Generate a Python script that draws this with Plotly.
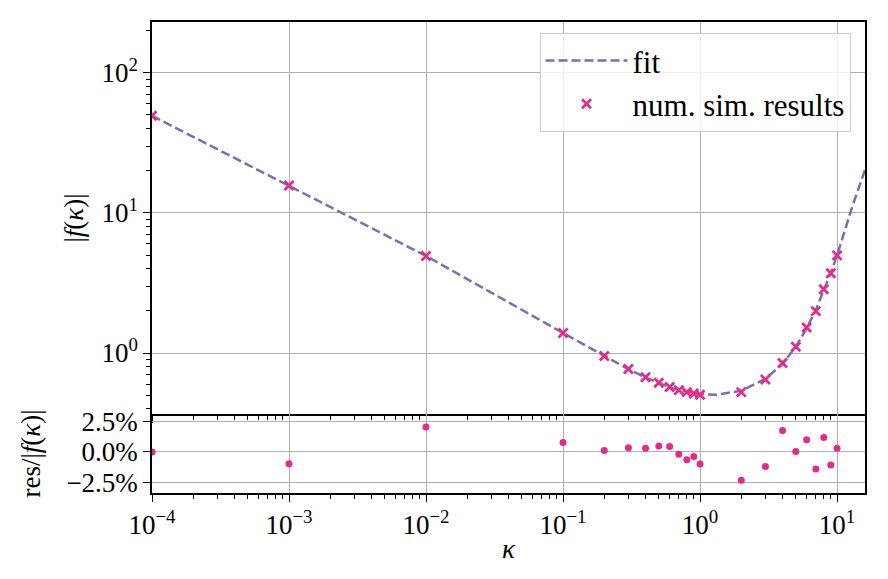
import plotly.graph_objects as go
from plotly.subplots import make_subplots

# ---------------- data ----------------
kappa_sim = [1e-4, 1e-3, 1e-2, 0.1, 0.2, 0.3, 0.4, 0.5, 0.6, 0.7, 0.8, 0.9, 1.0,
             2, 3, 4, 5, 6, 7, 8, 9, 10]
f_sim = [49.3, 15.7, 4.92, 1.39, 0.952, 0.769, 0.672, 0.614, 0.572, 0.544, 0.526,
         0.515, 0.504, 0.526, 0.648, 0.850, 1.11, 1.52, 1.99, 2.85, 3.71, 4.98]
res_pct = [0.0, -0.97, 2.02, 0.77, 0.12, 0.34, 0.29, 0.48, 0.45, -0.20, -0.64,
           -0.37, -0.99, -2.32, -1.18, 1.75, 0.04, 0.99, -1.40, 1.18, -1.07, 0.29]

kappa_fit = [1e-4, 1e-3, 1e-2, 0.1, 0.2, 0.3, 0.4, 0.5, 0.6, 0.7, 0.8, 0.9, 1.0,
             1.3, 2, 3, 4, 5, 6, 7, 8, 9, 10, 13, 16]
f_fit = [49.3, 15.6, 4.93, 1.39, 0.950, 0.767, 0.670, 0.611, 0.569, 0.545, 0.529,
         0.517, 0.509, 0.503, 0.538, 0.656, 0.835, 1.11, 1.50, 2.03, 2.80, 3.75,
         4.97, 11.3, 20.3]

x_tick_vals = [1e-4, 1e-3, 1e-2, 1e-1, 1, 10]
x_tick_text = ["10<sup>−4</sup>", "10<sup>−3</sup>", "10<sup>−2</sup>",
               "10<sup>−1</sup>", "10<sup>0</sup>", "10<sup>1</sup>"]
y_tick_vals = [1, 10, 100]
y_tick_text = ["10<sup>0</sup>", "10<sup>1</sup>", "10<sup>2</sup>"]
res_tick_vals = [2.5, 0.0, -2.5]
res_tick_text = ["2.5%", "0.0%", "−2.5%"]

# ---------------- style ----------------
PINK = "#e7298a"
PURPLE = "#7570b3"
FONT = "Liberation Serif, Times New Roman, serif"
GRID = "#b0b0b0"
FS = 27

minor_x = [m * 10.0 ** e for e in range(-4, 2) for m in range(2, 10)]
minor_y = [m * 10.0 ** e for e in range(-1, 3) for m in range(2, 10)]

fig = make_subplots(rows=2, cols=1, shared_xaxes=True, vertical_spacing=0,
                    row_heights=[0.832, 0.168])

fig.add_trace(go.Scatter(x=kappa_fit, y=f_fit, mode="lines", name="fit",
                         legendgroup="fit",
                         line=dict(color=PURPLE, width=2.5, dash="9px,4px")),
              row=1, col=1)
fig.add_trace(go.Scatter(x=kappa_sim, y=f_sim, mode="markers",
                         name="num. sim. results", legendgroup="sim",
                         marker=dict(symbol="x-thin", size=9, color=PINK,
                                     line=dict(color=PINK, width=2.7))),
              row=1, col=1)
fig.add_trace(go.Scatter(x=kappa_sim, y=res_pct, mode="markers", showlegend=False,
                         marker=dict(symbol="circle", size=7, color=PINK)),
              row=2, col=1)

tfont = dict(family=FONT, size=FS, color="black")
axis_common = dict(showline=True, linecolor="black", linewidth=1.5, mirror=True,
                   ticks="outside", tickcolor="black", tickwidth=1.2, ticklen=7,
                   gridcolor=GRID, gridwidth=0.8, zeroline=False, tickfont=tfont)

fig.update_xaxes(type="log", range=[-4, 1.204], tickmode="array",
                 tickvals=x_tick_vals, ticktext=x_tick_text,
                 minor=dict(tickmode="array", tickvals=minor_x, ticks="outside",
                            ticklen=4, tickcolor="black", tickwidth=1, showgrid=False),
                 **axis_common)
fig.update_xaxes(showticklabels=False, row=1, col=1)
fig.update_xaxes(mirror=False, title=dict(text="<i>κ</i>", font=tfont, standoff=0),
                 row=2, col=1)

fig.update_yaxes(type="log", range=[-0.434, 2.362], tickmode="array",
                 tickvals=y_tick_vals, ticktext=y_tick_text,
                 minor=dict(tickmode="array", tickvals=minor_y, ticks="outside",
                            ticklen=4, tickcolor="black", tickwidth=1, showgrid=False),
                 title=dict(text="|<i>f</i>(<i>κ</i>)|", font=tfont, standoff=10),
                 row=1, col=1, **axis_common)
fig.update_yaxes(range=[-3.35, 3.1], tickmode="array", tickvals=res_tick_vals,
                 ticktext=res_tick_text,
                 title=dict(text="res/|<i>f</i>(<i>κ</i>)|", font=tfont, standoff=18),
                 row=2, col=1, **axis_common)

fig.update_layout(
    width=888, height=579,
    margin=dict(l=152, r=23, t=22, b=86),
    paper_bgcolor="white", plot_bgcolor="white",
    font=tfont,
    showlegend=True,
    legend=dict(x=0.9797, y=0.977, xanchor="right", yanchor="top",
                bgcolor="rgba(255,255,255,0.8)", bordercolor="#cccccc", borderwidth=1,
                font=dict(family=FONT, size=31, color="black"),
                itemwidth=82, tracegroupgap=0),
)

fig.write_html("out.html")
